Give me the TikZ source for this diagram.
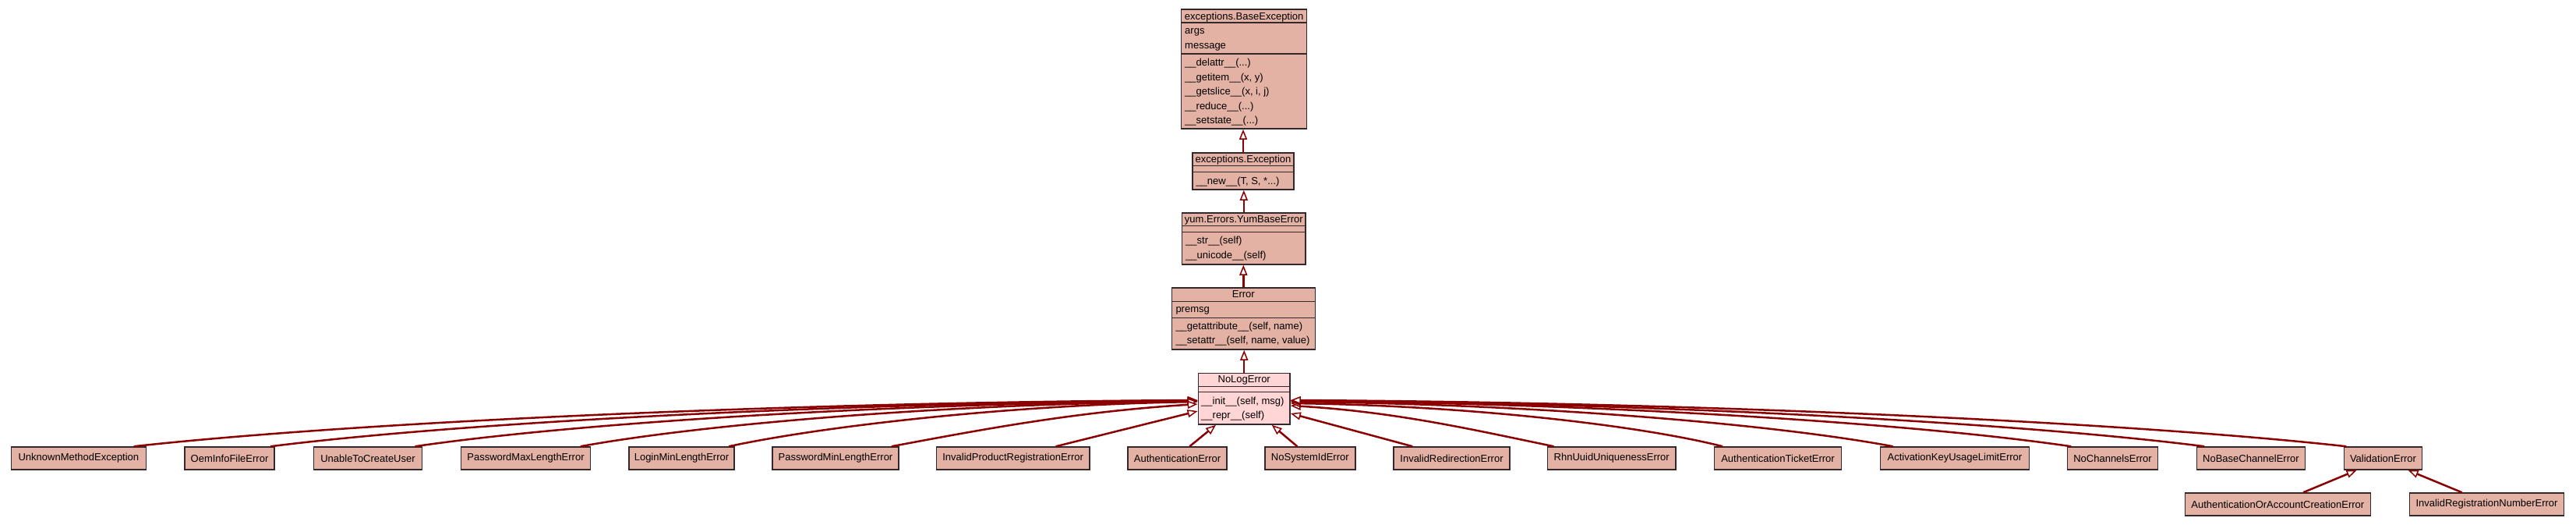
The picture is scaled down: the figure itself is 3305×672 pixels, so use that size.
\documentclass[tikz,border=0pt]{standalone}
\usepackage{fontspec}
\setmainfont{Liberation Sans}
\usetikzlibrary{arrows.meta}
\definecolor{clsfill}{HTML}{E3B2A5}
\definecolor{nlfill}{HTML}{FFD5D6}
\definecolor{edgec}{HTML}{8B0000}
\definecolor{bordc}{HTML}{33282C}
\newcommand\dfont{\fontsize{13pt}{15pt}\selectfont}
\begin{document}
\begin{tikzpicture}[x=1pt,y=-1pt,
  cls/.style={draw=bordc, fill=clsfill, line width=1.5pt, inner sep=0pt, font=\dfont, minimum height=29pt},
  txt/.style={inner sep=0pt, font=\dfont, anchor=base west},
  ttl/.style={inner sep=0pt, font=\dfont, anchor=base},
  sep/.style={draw=bordc, line width=1.5pt},
  inh/.style={draw=edgec, line width=2.5pt, -{Triangle[fill=white, length=13pt, width=10pt, line width=1.5pt]}}
]
\fill[white] (0,0) rectangle (3305,672);
\useasboundingbox (0,0) rectangle (3305,672);

% --- BaseException
\node[cls, minimum width=161pt, minimum height=153pt] (base) at (1596.2,88.5) {};
\draw[sep] ([yshift=-17.5pt]base.north west) -- ([yshift=-17.5pt]base.north east);
\draw[sep] ([yshift=-57.5pt]base.north west) -- ([yshift=-57.5pt]base.north east);
\node[ttl] (baseT) at (1596.2,25) {exceptions.BaseException};
\node[txt] (baseA1) at (1520,43.5) {args};
\node[txt] (baseA2) at (1520,62.5) {message};
\node[txt] (baseM1) at (1520,84.5) {\_\_delattr\_\_(...)};
\node[txt] (baseM2) at (1520,103) {\_\_getitem\_\_(x, y)};
\node[txt] (baseM3) at (1520,121.5) {\_\_getslice\_\_(x, i, j)};
\node[txt] (baseM4) at (1520,140) {\_\_reduce\_\_(...)};
\node[txt] (baseM5) at (1520,158.5) {\_\_setstate\_\_(...)};

% --- Exception
\node[cls, minimum width=130pt, minimum height=47pt] (exc) at (1595,219.5) {};
\draw[sep] ([yshift=-17.3pt]exc.north west) -- ([yshift=-17.3pt]exc.north east);
\draw[sep] ([yshift=-25pt]exc.north west) -- ([yshift=-25pt]exc.north east);
\node[ttl] (excT) at (1595,208) {exceptions.Exception};
\node[txt] (excM1) at (1534.3,236) {\_\_new\_\_(T, S, *...)};

% --- YumBaseError
\node[cls, minimum width=158.3pt, minimum height=66pt] (yum) at (1595.8,306) {};
\draw[sep] ([yshift=-17pt]yum.north west) -- ([yshift=-17pt]yum.north east);
\draw[sep] ([yshift=-25.3pt]yum.north west) -- ([yshift=-25.3pt]yum.north east);
\node[ttl] (yumT) at (1595.8,285.7) {yum.Errors.YumBaseError};
\node[txt] (yumM1) at (1521,312.7) {\_\_str\_\_(self)};
\node[txt] (yumM2) at (1521,331.7) {\_\_unicode\_\_(self)};

% --- Error
\node[cls, minimum width=184pt, minimum height=79pt] (err) at (1595.3,408.5) {};
\draw[sep] ([yshift=-18.3pt]err.north west) -- ([yshift=-18.3pt]err.north east);
\draw[sep] ([yshift=-39.3pt]err.north west) -- ([yshift=-39.3pt]err.north east);
\node[ttl] (errT) at (1595.3,381.7) {Error};
\node[txt] (errA1) at (1508.3,400.7) {premsg};
\node[txt] (errM1) at (1508.3,422.7) {\_\_getattribute\_\_(self, name)};
\node[txt] (errM2) at (1508.3,440.7) {\_\_setattr\_\_(self, name, value)};

% --- NoLogError
\node[cls, fill=nlfill, minimum width=117.7pt, minimum height=65.7pt] (nolog) at (1596.2,511.15) {};
\draw[sep] ([yshift=-17.7pt]nolog.north west) -- ([yshift=-17.7pt]nolog.north east);
\draw[sep] ([yshift=-25pt]nolog.north west) -- ([yshift=-25pt]nolog.north east);
\node[ttl] (nologT) at (1596.2,490.7) {NoLogError};
\node[txt] (nologM1) at (1541,518.7) {\_\_init\_\_(self, msg)};
\node[txt] (nologM2) at (1541,536.7) {\_\_repr\_\_(self)};

% --- vertical chain
\draw[inh] (exc.north) -- (exc.north |- base.south);
\draw[inh] (yum.north) -- (yum.north |- exc.south);
\draw[inh] (err.north) -- (err.north |- yum.south);
\draw[inh] (nolog.north) -- (nolog.north |- err.south);

% --- bottom row
\node[cls, minimum width=173pt] (unk) at (100.9,587.5) {UnknownMethodException};
\node[cls, minimum width=115pt] (oem) at (294.5,587.5) {OemInfoFileError};
\node[cls, minimum width=139pt] (unable) at (472,587.5) {UnableToCreateUser};
\node[cls, minimum width=166pt] (pmax) at (674.5,587.5) {PasswordMaxLengthError};
\node[cls, minimum width=135pt] (lmin) at (874.5,587.5) {LoginMinLengthError};
\node[cls, minimum width=162pt] (pmin) at (1072,587.5) {PasswordMinLengthError};
\node[cls, minimum width=196.5pt] (ipr) at (1299.6,587.5) {InvalidProductRegistrationError};
\node[cls, minimum width=127pt] (auth) at (1510.5,587.5) {AuthenticationError};
\node[cls, minimum width=116pt] (nosys) at (1680.8,587.5) {NoSystemIdError};
\node[cls, minimum width=148.6pt] (ired) at (1862.5,587.5) {InvalidRedirectionError};
\node[cls, minimum width=164.6pt] (rhn) at (2067.7,587.5) {RhnUuidUniquenessError};
\node[cls, minimum width=163pt] (aticket) at (2281,587.5) {AuthenticationTicketError};
\node[cls, minimum width=190.7pt] (akey) at (2507.9,587.5) {ActivationKeyUsageLimitError};
\node[cls, minimum width=116pt] (noch) at (2710.5,587.5) {NoChannelsError};
\node[cls, minimum width=139.3pt] (nobase) at (2887.9,587.5) {NoBaseChannelError};
\node[cls, minimum width=100pt] (valid) at (3057.5,587.5) {ValidationError};
\node[cls, minimum width=238pt] (aoace) at (2922.3,646.5) {AuthenticationOrAccountCreationError};
\node[cls, minimum width=198pt] (irne) at (3190.5,646.5) {InvalidRegistrationNumberError};

% --- edges into NoLogError, left side
\draw[inh] ([xshift=-16.5pt]unk.north east) .. controls +(273,-30) and +(-546,3) .. ([yshift=-1.85pt]nolog.west);
\draw[inh] ([xshift=-5.6pt]oem.north east) .. controls +(238,-30) and +(-476,3) .. ([yshift=-2.35pt]nolog.west);
\draw[inh] ([xshift=-9.8pt]unable.north east) .. controls +(201,-29.5) and +(-402,3) .. ([yshift=-2.85pt]nolog.west);
\draw[inh] ([xshift=-13.5pt]pmax.north east) .. controls +(159,-29) and +(-317,3) .. ([yshift=-3.35pt]nolog.west);
\draw[inh] ([xshift=-7.7pt]lmin.north east) .. controls +(121,-26) and +(-241,4) .. ([yshift=-3.85pt]nolog.west);
\draw[inh] ([xshift=-10pt]pmin.north east) .. controls +(118,-22) and +(-158,10) .. ([yshift=-6.85pt]nolog.west);
\draw[inh] ([xshift=-44pt]ipr.north east) -- ([yshift=-15.85pt]nolog.west);

% --- edges into NoLogError, right side
\draw[inh] ([xshift=24.8pt]ired.north west) -- ([yshift=-18.85pt]nolog.east);
\draw[inh] ([xshift=8.9pt]rhn.north west) .. controls +(-102,-21) and +(136,8) .. ([yshift=-8.85pt]nolog.east);
\draw[inh] ([xshift=11.4pt]aticket.north west) .. controls +(-111,-28) and +(222,3) .. ([yshift=-5.85pt]nolog.east);
\draw[inh] ([xshift=16.8pt]akey.north west) .. controls +(-155,-29) and +(310,3) .. ([yshift=-3.85pt]nolog.east);
\draw[inh] ([xshift=5.4pt]noch.north west) .. controls +(-201,-29.5) and +(401,3) .. ([yshift=-2.85pt]nolog.east);
\draw[inh] ([xshift=10.7pt]nobase.north west) .. controls +(-235,-30) and +(470,3) .. ([yshift=-2.35pt]nolog.east);
\draw[inh] ([xshift=3.5pt]valid.north west) .. controls +(-271,-30) and +(542,3) .. ([yshift=-1.85pt]nolog.east);

% --- edges from below
\draw[inh] ([xshift=80pt]auth.north west) -- ([xshift=-36.2pt]nolog.south);
\draw[inh] ([xshift=42.3pt]nosys.north west) -- ([xshift=35.5pt]nolog.south);
\draw[inh] ([xshift=152.5pt]aoace.north west) -- ([xshift=-33.9pt]valid.south);
\draw[inh] ([xshift=67.9pt]irne.north west) -- ([xshift=32.1pt]valid.south);
\end{tikzpicture}
\end{document}
